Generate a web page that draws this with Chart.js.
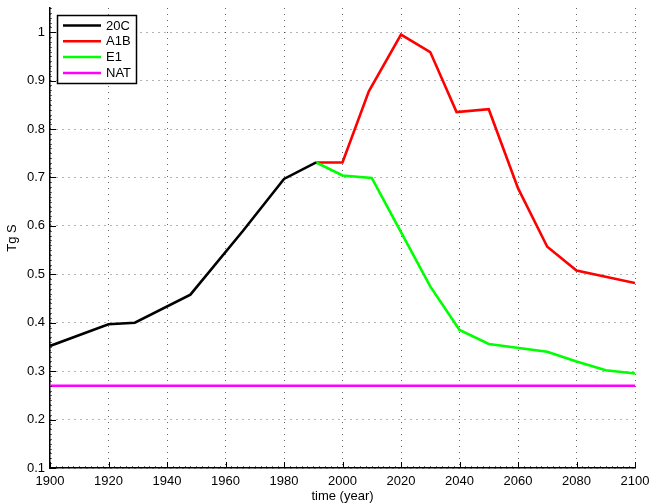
<!DOCTYPE html>
<html>
<head>
<meta charset="utf-8">
<script src="https://cdn.jsdelivr.net/npm/chart.js@4.4.0/dist/chart.umd.min.js"></script>
<style>
html,body{margin:0;padding:0;background:#fff;}
canvas{display:block;}
</style>
</head>
<body>
<canvas id="c" width="649" height="504"></canvas>
<script>
// ---- data ----
const years20C = [1900, 1920, 1929, 1948, 1966, 1980, 1991];
const vals20C  = [0.352, 0.397, 0.400, 0.458, 0.590, 0.697, 0.731];

const yearsA1B = [1991, 2000, 2009, 2020, 2030, 2039, 2050, 2060, 2070, 2080, 2100];
const valsA1B  = [0.731, 0.731, 0.878, 0.995, 0.959, 0.835, 0.841, 0.678, 0.557, 0.508, 0.482];

const yearsE1 = [1991, 2000, 2010, 2020, 2030, 2040, 2050, 2070, 2080, 2090, 2100];
const valsE1  = [0.731, 0.704, 0.699, 0.587, 0.475, 0.385, 0.356, 0.340, 0.320, 0.302, 0.295];

const yearsNAT = [1900, 2100];
const valsNAT  = [0.27, 0.27];

const xTicks = [1900, 1920, 1940, 1960, 1980, 2000, 2020, 2040, 2060, 2080, 2100];
const yTicks = [0.1, 0.2, 0.3, 0.4, 0.5, 0.6, 0.7, 0.8, 0.9, 1];

const seriesNames = ['20C', 'A1B', 'E1', 'NAT'];
const seriesColors = ['#000000', '#ff0000', '#00ff00', '#ff00ff'];

function pts(xs, ys){ return xs.map((x,i)=>({x:x, y:ys[i]})); }

const FONT = '"Liberation Sans", Arial, sans-serif';

// inward major + minor ticks (MATLAB style)
const tickPlugin = {
  id: 'inTicks',
  afterDraw(chart){
    const {ctx, chartArea:a, scales:{x, y}} = chart;
    ctx.save();
    ctx.strokeStyle = '#000';
    ctx.lineWidth = 1;
    ctx.beginPath();
    x.ticks.forEach(t=>{
      const px = Math.round(x.getPixelForValue(t.value))+0.5;
      ctx.moveTo(px, a.bottom); ctx.lineTo(px, a.bottom-6);
    });
    y.ticks.forEach(t=>{
      const py = Math.round(y.getPixelForValue(t.value))+0.5;
      ctx.moveTo(a.left, py); ctx.lineTo(a.left+6, py);
    });
    ctx.stroke();
    ctx.strokeStyle = 'rgba(0,0,0,0.6)';
    ctx.beginPath();
    for (let v = x.min; v <= x.max; v += 2){
      const px = Math.round(x.getPixelForValue(v))+0.5;
      ctx.moveTo(px, a.bottom); ctx.lineTo(px, a.bottom-2);
    }
    for (let k = 10; k <= 105; k++){
      const py = Math.round(y.getPixelForValue(k/100))+0.5;
      ctx.moveTo(a.left, py); ctx.lineTo(a.left+2, py);
    }
    ctx.stroke();
    ctx.restore();
  }
};

// legend box inside the plot (top-left)
const legendPlugin = {
  id: 'boxLegend',
  afterDraw(chart){
    const {ctx, chartArea:a} = chart;
    const bx = a.left + 7, by = a.top + 7, bw = 79, bh = 68;
    ctx.save();
    ctx.fillStyle = '#fff';
    ctx.fillRect(bx, by, bw, bh);
    ctx.strokeStyle = '#000';
    ctx.lineWidth = 1.5;
    ctx.strokeRect(bx+0.5, by+0.5, bw, bh);
    ctx.font = '13px ' + FONT;
    ctx.textBaseline = 'middle';
    chart.data.datasets.forEach((ds,i)=>{
      const yy = by + 10.5 + i*15.8;
      ctx.strokeStyle = ds.borderColor;
      ctx.lineWidth = 2.5;
      ctx.beginPath();
      ctx.moveTo(bx+6, yy); ctx.lineTo(bx+44, yy);
      ctx.stroke();
      ctx.fillStyle = '#000';
      ctx.fillText(ds.label, bx+49, yy+0.5);
    });
    ctx.restore();
  }
};

const datasets = [
  pts(years20C, vals20C),
  pts(yearsA1B, valsA1B),
  pts(yearsE1, valsE1),
  pts(yearsNAT, valsNAT)
].map((d,i)=>({
  label: seriesNames[i],
  data: d,
  borderColor: seriesColors[i],
  backgroundColor: seriesColors[i],
  borderWidth: 2.6,
  pointRadius: 0,
  tension: 0,
  fill: false
}));
datasets[0].order = 0; datasets[1].order = 2; datasets[2].order = 1; datasets[3].order = 3;

const gridStyle = { color:'rgba(0,0,0,0.6)', lineWidth:1, drawTicks:false };

new Chart(document.getElementById('c'), {
  type: 'line',
  data: { datasets },
  options: {
    responsive: false,
    animation: false,
    layout: { padding: { top: 8, right: 14, left: 0, bottom: 0 } },
    plugins: { legend: { display: false }, tooltip: { enabled: false } },
    scales: {
      x: {
        type: 'linear',
        min: 1900, max: 2100,
        afterBuildTicks(s){ s.ticks = xTicks.map(v=>({value:v})); },
        afterFit(s){ s.height = 36; s.paddingLeft = 0; s.paddingRight = 0; },
        ticks: { color:'#000', font:{family:FONT, size:13}, padding: 6, maxRotation:0, autoSkip:false,
                 callback: v => String(v) },
        grid: gridStyle,
        border: { display:true, color:'#000', width:1.5, dash:[1,5] },
        title: { display:true, text:'time (year)', color:'#000', font:{family:FONT, size:13}, padding:{top:0,bottom:0} }
      },
      y: {
        type: 'linear',
        min: 0.1, max: 1.05,
        afterBuildTicks(s){ s.ticks = yTicks.map(v=>({value:v})); },
        afterFit(s){ s.width = 50; s.paddingTop = 0; s.paddingBottom = 0; },
        ticks: { color:'#000', font:{family:FONT, size:13}, padding: 5,
                 callback: v => String(Math.round(v*10)/10) },
        grid: gridStyle,
        border: { display:true, color:'#000', width:1.5, dash:[1,5] },
        title: { display:true, text:'Tg S', color:'#000', font:{family:FONT, size:13}, padding:{top:5,bottom:0} }
      }
    }
  },
  plugins: [tickPlugin, legendPlugin]
});
</script>
</body>
</html>
